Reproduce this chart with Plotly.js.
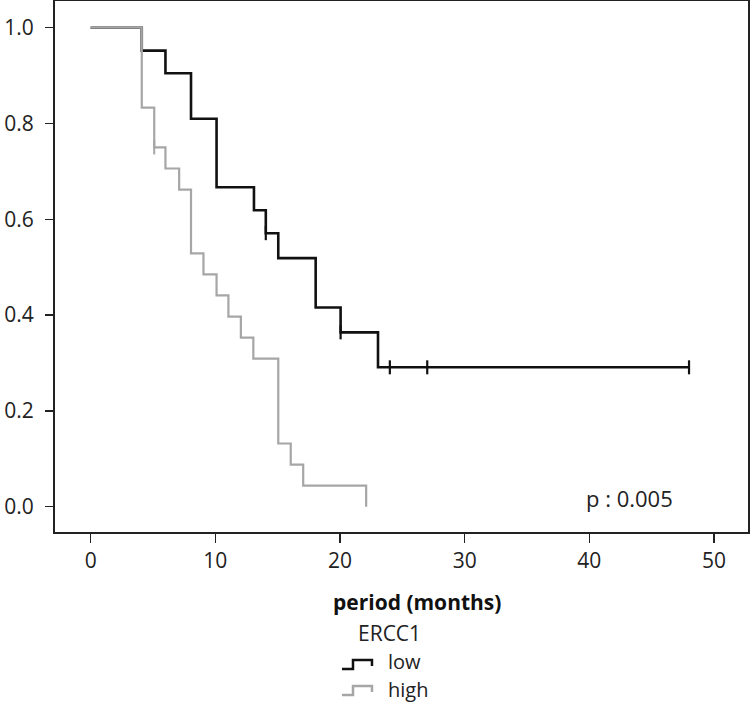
<!DOCTYPE html>
<html>
<head>
<meta charset="utf-8">
<script src="https://cdn.plot.ly/plotly-3.0.1.min.js"></script>
<style>html,body{margin:0;padding:0;background:#fff;}#chart{width:750px;height:705px;}</style>
</head>
<body>
<div id="chart"></div>
<script>
// Kaplan-Meier step data (time in months, survival probability)
const lowTime = [0, 4.1, 6.0, 8.05, 10.1, 13.1, 14.05, 15.05, 18.05, 20.05, 23.05, 48];
const lowSurv = [1.0, 0.952, 0.905, 0.810, 0.667, 0.619, 0.571, 0.519, 0.416, 0.364, 0.291, 0.291];
const lowCensorTime = [14.05, 20.05, 24.0, 27.0, 48];
const lowCensorSurv = [0.571, 0.364, 0.291, 0.291, 0.291];

const highTime = [0, 4.1, 5.1, 6.0, 7.1, 8.05, 9.05, 10.1, 11.05, 12.05, 13.05, 15.05, 16.05, 17.05, 22.1];
const highSurv = [1.0, 0.833, 0.750, 0.706, 0.662, 0.529, 0.485, 0.441, 0.397, 0.353, 0.309, 0.132, 0.088, 0.044, 0.0];
const highCensorTime = [5.1];
const highCensorSurv = [0.750];

const xTicks = [0, 10, 20, 30, 40, 50];
const yTicks = [0.0, 0.2, 0.4, 0.6, 0.8, 1.0];
const groupLabels = ['low', 'high'];
const legendTitle = 'ERCC1';
const xTitle = 'period (months)';
const pText = 'p : 0.005';

const FONT = 'Open Sans, Noto Sans, sans-serif';
const BLACK = '#111111';
const GREY = '#a6a6a6';

const traces = [
  {x: lowTime, y: lowSurv, mode: 'lines', line: {shape: 'hv', color: BLACK, width: 2.6}, name: groupLabels[0], showlegend: false, hoverinfo: 'x+y'},
  {x: lowCensorTime, y: lowCensorSurv, mode: 'markers', marker: {symbol: 'line-ns-open', size: 10, color: BLACK, line: {color: BLACK, width: 2.2}}, showlegend: false, hoverinfo: 'skip'},
  {x: highTime, y: highSurv, mode: 'lines', line: {shape: 'hv', color: GREY, width: 2.2}, name: groupLabels[1], showlegend: false, hoverinfo: 'x+y'},
  {x: highCensorTime, y: highCensorSurv, mode: 'markers', marker: {symbol: 'line-ns-open', size: 10, color: GREY, line: {color: GREY, width: 2}}, showlegend: false, hoverinfo: 'skip'}
];

// pixel -> paper helpers for legend decorations
const L = 55, T = 1, W = 693, H = 531;
const px = v => (v - L) / W;
const py = v => (T + H - v) / H;

function stepPath(y0) {
  const pts = [[342, y0], [353, y0], [353, y0 - 9], [372, y0 - 9], [372, y0 - 3]];
  return 'M' + pts.map(p => px(p[0]).toFixed(4) + ',' + py(p[1]).toFixed(4)).join(' L');
}

const layout = {
  width: 750, height: 705,
  margin: {l: L, r: 750 - L - W, t: T, b: 705 - T - H},
  paper_bgcolor: '#fff', plot_bgcolor: '#fff',
  font: {family: FONT, size: 21, color: '#222'},
  showlegend: false,
  xaxis: {
    range: [-2.86, 52.73], tickvals: xTicks, ticktext: xTicks.map(String),
    ticks: 'outside', ticklen: 9, tickwidth: 1.5, tickcolor: '#222',
    showline: true, mirror: true, linecolor: '#222', linewidth: 2,
    showgrid: false, zeroline: false,
    tickfont: {size: 21, color: '#222'}
  },
  yaxis: {
    range: [-0.0528, 1.0557], tickvals: yTicks, ticktext: yTicks.map(v => v.toFixed(1)),
    ticks: 'outside', ticklen: 8, tickwidth: 1.5, tickcolor: '#222',
    showline: true, mirror: true, linecolor: '#222', linewidth: 2,
    showgrid: false, zeroline: false, ticklabelstandoff: 7,
    tickfont: {size: 21, color: '#222'}
  },
  annotations: [
    {xref: 'paper', yref: 'paper', x: px(417), y: py(602), text: '<b>' + xTitle + '</b>', showarrow: false, xanchor: 'center', yanchor: 'middle', font: {size: 21, color: '#111'}},
    {xref: 'paper', yref: 'paper', x: px(629), y: py(498), text: pText, showarrow: false, xanchor: 'center', yanchor: 'middle', font: {size: 22, color: '#222'}},
    {xref: 'paper', yref: 'paper', x: px(356), y: py(633), text: legendTitle, showarrow: false, xanchor: 'left', yanchor: 'middle', font: {size: 21, color: '#222'}},
    {xref: 'paper', yref: 'paper', x: px(386), y: py(661), text: groupLabels[0], showarrow: false, xanchor: 'left', yanchor: 'middle', font: {size: 20, color: '#222'}},
    {xref: 'paper', yref: 'paper', x: px(386), y: py(689), text: groupLabels[1], showarrow: false, xanchor: 'left', yanchor: 'middle', font: {size: 20, color: '#222'}}
  ],
  shapes: [
    {type: 'path', xref: 'paper', yref: 'paper', path: stepPath(669), line: {color: BLACK, width: 2.5}},
    {type: 'path', xref: 'paper', yref: 'paper', path: stepPath(695), line: {color: GREY, width: 2.5}}
  ]
};

Plotly.newPlot('chart', traces, layout, {displayModeBar: false, staticPlot: true});
</script>
</body>
</html>
